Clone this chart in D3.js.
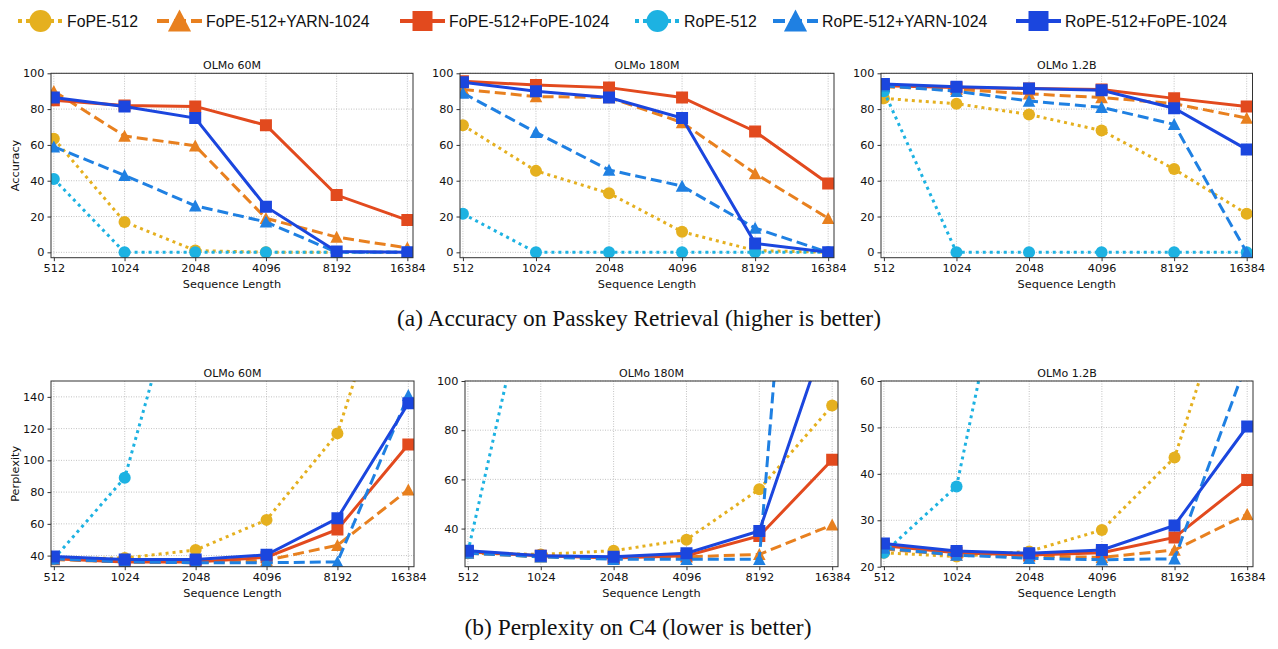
<!DOCTYPE html>
<html lang="en">
<head>
<meta charset="utf-8">
<title>FoPE vs RoPE</title>
<script src="https://d3js.org/d3.v7.min.js"></script>
<style>
body { margin: 0; background: #fff; }
</style>
</head>
<body>
<div id="fig"></div>
<script>
// ---- data ----
const seqLabels = ["512", "1024", "2048", "4096", "8192", "16384"];
const seriesNames = ["FoPE-512", "FoPE-512+YARN-1024", "FoPE-512+FoPE-1024",
                     "RoPE-512", "RoPE-512+YARN-1024", "RoPE-512+FoPE-1024"];
const modelTitles = ["OLMo 60M", "OLMo 180M", "OLMo 1.2B"];

// passkey accuracy, one row per series (same order as seriesNames)
const acc60M = [
  [63.5, 17, 1, 0, 0, 0],
  [90, 65, 59.5, 19, 8.5, 2.5],
  [85, 82, 81.5, 71, 32, 18],
  [41, 0, 0, 0, 0, 0],
  [59, 43, 26, 17, 0, 0],
  [86.5, 81.5, 75, 25.5, 0.5, 0]
];
const acc180M = [
  [71, 45.5, 33, 11.5, 1, 0],
  [91, 87, 86.5, 72.5, 44, 19],
  [95.5, 93.5, 92, 86.5, 67.5, 38.5],
  [21.5, 0, 0, 0, 0, 0],
  [89, 67, 46, 37, 13.5, 0],
  [95, 90, 86.5, 75, 5, 0]
];
const acc1B = [
  [86, 83, 77, 68, 46.5, 21.5],
  [92.5, 91, 88.5, 86.5, 83, 75],
  [93, 92, 91.5, 91, 86, 81.5],
  [90, 0, 0, 0, 0, 0],
  [93, 90, 84.5, 81, 71.5, 0],
  [94, 92.5, 91.5, 90.5, 80.5, 57.5]
];

// C4 perplexity (null = far above the plotted range)
const ppl60M = [
  [38, 38.5, 43.5, 62.5, 117, 257],
  [37.5, 36, 35.5, 37, 46.5, 81.5],
  [38, 36, 36, 39, 56.5, 110],
  [38, 89, 249, null, null, null],
  [38, 36, 35.5, 35.5, 36, 141],
  [39.5, 37.5, 37.5, 40.5, 63.5, 136]
];
const ppl180M = [
  [30, 29.5, 31, 35.5, 56, 90],
  [30, 28.5, 28, 28.5, 29.5, 41.5],
  [30.5, 29, 28, 29, 37, 68],
  [30.5, 162, null, null, null, null],
  [30, 28.5, 27.5, 27.5, 27.5, 390],
  [31, 29, 28.5, 30, 39, 126]
];
const ppl1B = [
  [23, 22.2, 23.3, 27.9, 43.5, 92],
  [23.8, 22.5, 22.3, 22, 23.6, 31.3],
  [24.5, 23, 22.5, 23, 26.3, 38.7],
  [23, 37.3, 112, null, null, null],
  [24, 22.5, 21.8, 21.5, 21.7, 64.3],
  [25, 23.4, 22.9, 23.6, 28.9, 50.2]
];

const accTicks = [0, 20, 40, 60, 80, 100];
const ppl60MTicks = [40, 60, 80, 100, 120, 140];
const ppl180MTicks = [40, 60, 80, 100];
const ppl1BTicks = [20, 30, 40, 50, 60];

// ---- styles ----
const colors = ["#e5b01f", "#e8801f", "#e24a1e", "#1db2e2", "#1f80e2", "#1b46de"];
const dashes = ["3,4", "11,5", null, "3,4", "11,5", null];
const markers = ["circle", "triangle", "square", "circle", "triangle", "square"];
const mplFont = "DejaVu Sans";

const W = 1278, H = 649;
const svg = d3.select("#fig").append("svg").attr("width", W).attr("height", H);

function markerPath(type, r) {
  if (type === "circle") {
    const p = d3.path(); p.arc(0, 0, r, 0, 2 * Math.PI); return p.toString();
  }
  if (type === "square") return `M${-r},${-r}H${r}V${r}H${-r}Z`;
  return `M0,${-r * 1.05}L${r * 1.05},${r * 0.95}L${-r * 1.05},${r * 0.95}Z`;
}

const panels = [
  {box: [51, 413, 73.3, 257.7], title: modelTitles[0], data: acc60M, dom: [-3, 100], ticks: accTicks, ylab: "Accuracy"},
  {box: [460, 834, 73.3, 257.7], title: modelTitles[1], data: acc180M, dom: [-3, 100], ticks: accTicks},
  {box: [881, 1252.5, 73.3, 257.7], title: modelTitles[2], data: acc1B, dom: [-3, 100], ticks: accTicks},
  {box: [51, 414, 381, 566.7], title: modelTitles[0], data: ppl60M, dom: [33, 150], ticks: ppl60MTicks, ylab: "Perplexity"},
  {box: [465, 838, 381, 566.7], title: modelTitles[1], data: ppl180M, dom: [24.5, 100], ticks: ppl180MTicks},
  {box: [881, 1253, 381, 566.7], title: modelTitles[2], data: ppl1B, dom: [20, 60], ticks: ppl1BTicks}
];

panels.forEach((p, pi) => {
  const [l, r, t, b] = p.box;
  const x = d3.scaleLinear().domain([-0.04, 5.08]).range([l, r]);
  const y = d3.scaleLinear().domain(p.dom).range([b, t]);
  const g = svg.append("g");

  g.append("clipPath").attr("id", "clip" + pi)
    .append("rect").attr("x", l).attr("y", t).attr("width", r - l).attr("height", b - t);

  // grid
  g.selectAll(".gx").data(d3.range(6)).enter().append("line")
    .attr("x1", d => x(d)).attr("x2", d => x(d)).attr("y1", t).attr("y2", b)
    .attr("stroke", "#b3b3b3").attr("stroke-width", 0.8).attr("stroke-dasharray", "1,1.5");
  g.selectAll(".gy").data(p.ticks).enter().append("line")
    .attr("x1", l).attr("x2", r).attr("y1", d => y(d)).attr("y2", d => y(d))
    .attr("stroke", "#b3b3b3").attr("stroke-width", 0.8).attr("stroke-dasharray", "1,1.5");

  // axes
  const xa = g.append("g").attr("transform", `translate(0,${b})`)
    .call(d3.axisBottom(x).tickValues(d3.range(6)).tickFormat(i => seqLabels[i]).tickSize(3.5).tickPadding(3));
  const ya = g.append("g").attr("transform", `translate(${l},0)`)
    .call(d3.axisLeft(y).tickValues(p.ticks).tickSize(3.5).tickPadding(3));
  [xa, ya].forEach(a => {
    a.attr("font-family", null).attr("font-size", null);
    a.select(".domain").remove();
    a.selectAll("text").attr("font-size", 11.3).attr("fill", "#111").attr("font-family", mplFont);
    a.selectAll("line").attr("stroke", "#333");
  });

  // series
  const plot = g.append("g").attr("clip-path", `url(#clip${pi})`);
  const line = d3.line().defined(d => d != null).x((d, i) => x(i)).y(d => y(d));
  p.data.forEach((vals, si) => {
    plot.append("path").attr("d", line(vals)).attr("fill", "none")
      .attr("stroke", colors[si]).attr("stroke-width", 3)
      .attr("stroke-dasharray", dashes[si]);
    plot.selectAll(null).data(vals.map((v, i) => [i, v]).filter(d => d[1] != null))
      .enter().append("path")
      .attr("transform", d => `translate(${x(d[0])},${y(d[1])})`)
      .attr("d", markerPath(markers[si], 6))
      .attr("fill", colors[si]);
  });

  // frame
  g.append("rect").attr("x", l).attr("y", t).attr("width", r - l).attr("height", b - t)
    .attr("fill", "none").attr("stroke", "#333").attr("stroke-width", 1);

  g.append("text").attr("x", (l + r) / 2).attr("y", t - 4).attr("text-anchor", "middle")
    .attr("font-family", mplFont).attr("font-size", 11).attr("fill", "#111").text(p.title);
  g.append("text").attr("x", (l + r) / 2).attr("y", b + 30).attr("text-anchor", "middle")
    .attr("font-family", mplFont).attr("font-size", 11.3).attr("fill", "#111").text("Sequence Length");
  if (p.ylab) {
    g.append("text").attr("transform", `translate(19,${(t + b) / 2}) rotate(-90)`)
      .attr("text-anchor", "middle").attr("font-family", mplFont).attr("font-size", 11.3)
      .attr("fill", "#111").text(p.ylab);
  }
});

// captions
svg.append("text").attr("x", 639).attr("y", 325.5).attr("text-anchor", "middle")
  .attr("font-family", "Liberation Serif").attr("font-size", 23.4).attr("fill", "#111")
  .text("(a) Accuracy on Passkey Retrieval (higher is better)");
svg.append("text").attr("x", 638).attr("y", 634.5).attr("text-anchor", "middle")
  .attr("font-family", "Liberation Serif").attr("font-size", 23.4).attr("fill", "#111")
  .text("(b) Perplexity on C4 (lower is better)");

// legend
const legendX = [18, 157, 400, 635, 773, 1016];
const ly = 21;
seriesNames.forEach((name, si) => {
  const x0 = legendX[si];
  const lg = svg.append("g");
  lg.append("line").attr("x1", x0).attr("x2", x0 + 45).attr("y1", ly).attr("y2", ly)
    .attr("stroke", colors[si]).attr("stroke-width", 4)
    .attr("stroke-dasharray", si % 3 === 0 ? "4,4" : (si % 3 === 1 ? "12,5" : null));
  lg.append("path").attr("transform", `translate(${x0 + 22.5},${ly})`)
    .attr("d", markerPath(markers[si], markers[si] === "square" ? 10 : 11))
    .attr("fill", colors[si]);
  lg.append("text").attr("x", x0 + 49).attr("y", ly + 5.5)
    .attr("font-family", "Liberation Sans").attr("font-size", 15.8).attr("fill", "#111")
    .text(name);
});
</script>
</body>
</html>
